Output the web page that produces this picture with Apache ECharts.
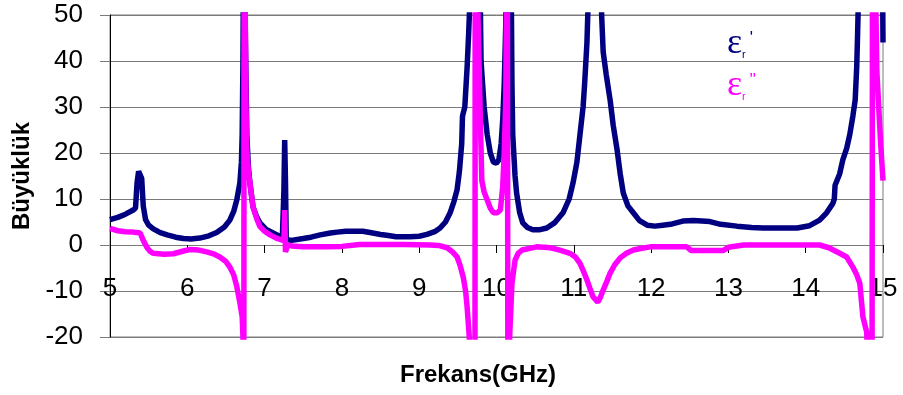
<!DOCTYPE html>
<html>
<head>
<meta charset="utf-8">
<script src="https://cdn.jsdelivr.net/npm/echarts@6/dist/echarts.min.js"></script>
<style>
  html, body { margin: 0; padding: 0; background: #fff; }
  #chart { width: 903px; height: 395px; }
</style>
</head>
<body>
<div id="chart"></div>
<script>
// Frequency sweep (GHz) and real part of the permittivity
const freqReal = [
  5.00, 5.10, 5.20, 5.30, 5.33, 5.35, 5.37, 5.39, 5.41, 5.43, 5.46, 5.50, 5.56, 5.65, 5.74,
  5.85, 5.95, 6.05, 6.16, 6.28, 6.38, 6.48, 6.55, 6.60, 6.64, 6.68, 6.70, 6.71, 6.72, 6.73,
  6.75, 6.76, 6.77, 6.79, 6.81, 6.85, 6.90, 6.94, 7.02, 7.11, 7.18, 7.23, 7.25, 7.26, 7.27,
  7.28, 7.35, 7.50, 7.60, 7.72, 7.85, 7.94, 8.05, 8.27, 8.40, 8.50, 8.58, 8.70, 8.88, 9.00,
  9.10, 9.20, 9.27, 9.34, 9.40, 9.45, 9.49, 9.52, 9.54, 9.55, 9.56, 9.57, 9.59, 9.62, 9.64,
  9.66, 9.68, 9.77, 9.80, 9.84, 9.88, 9.92, 9.96, 10.00, 10.03, 10.06, 10.08, 10.10, 10.12, 10.13,
  10.18, 10.20, 10.21, 10.24, 10.26, 10.30, 10.34, 10.40, 10.47, 10.55, 10.65, 10.75, 10.86, 10.94, 10.99,
  11.04, 11.08, 11.12, 11.14, 11.17, 11.19, 11.20, 11.35, 11.36, 11.38, 11.42, 11.47, 11.51, 11.56, 11.60,
  11.64, 11.70, 11.77, 11.85, 11.95, 12.05, 12.15, 12.25, 12.41, 12.55, 12.76, 12.90, 13.11, 13.30, 13.45,
  13.70, 13.89, 14.05, 14.18, 14.27, 14.35, 14.37, 14.38, 14.40, 14.44, 14.48, 14.53, 14.57, 14.61, 14.64,
  14.66, 14.67, 14.68, 14.70, 14.985, 15.00
];
const epsReal = [
  5.5, 6.0, 6.7, 7.6, 8.0, 13.5, 16.0, 15.8, 14.5, 8.5, 5.5, 4.3, 3.5, 2.7, 2.2,
  1.7, 1.4, 1.3, 1.5, 2.0, 2.7, 3.9, 5.4, 7.3, 9.8, 13.5, 18, 24, 40, 70,
  70, 35, 24, 17, 13.5, 8.3, 6.0, 4.8, 3.4, 2.6, 2.0, 1.8, 12, 22.8, 14,
  1.2, 1.0, 1.4, 1.7, 2.2, 2.6, 2.8, 3.0, 3.0, 2.6, 2.3, 2.1, 1.8, 1.8, 1.9,
  2.3, 2.9, 3.7, 5.0, 7.0, 9.5, 12.0, 16, 20, 22, 28, 28, 30, 38.7, 46,
  55, 80, 80, 40, 30, 24, 20, 18, 17.8, 18.5, 22, 27, 35, 48, 80,
  80, 35, 24, 15, 11.3, 7.0, 4.8, 3.8, 3.3, 3.3, 3.7, 4.8, 7.0, 10, 13.5,
  18, 24, 30, 35, 44, 55, 80, 80, 50, 42, 37, 31.5, 26, 20.7, 15.5,
  11.3, 8.5, 7.0, 5.3, 4.3, 4.1, 4.3, 4.5, 5.2, 5.3, 5.1, 4.5, 4.1, 3.8, 3.7,
  3.7, 3.7, 4.2, 5.4, 7.0, 9.0, 10, 13, 12.8, 15.5, 18.5, 21, 24, 28, 31.5,
  38.7, 45, 52, 80, 80, 44
];

// Frequency sweep (GHz) and imaginary part of the permittivity
const freqImag = [
  5.00, 5.10, 5.20, 5.30, 5.39, 5.43, 5.48, 5.52, 5.56, 5.70, 5.82, 5.95, 6.03, 6.15, 6.25,
  6.35, 6.42, 6.50, 6.55, 6.60, 6.64, 6.68, 6.71, 6.72, 6.73, 6.735, 6.76, 6.77, 6.79, 6.81,
  6.85, 6.90, 6.94, 7.00, 7.07, 7.15, 7.22, 7.25, 7.26, 7.27, 7.30, 7.35, 7.50, 7.80, 8.00,
  8.23, 8.50, 8.80, 9.14, 9.25, 9.36, 9.43, 9.49, 9.53, 9.57, 9.60, 9.62, 9.648, 9.67, 9.72,
  9.725, 9.76, 9.79, 9.81, 9.84, 9.88, 9.92, 9.96, 10.01, 10.05, 10.08, 10.10, 10.12, 10.14, 10.15,
  10.17, 10.20, 10.24, 10.28, 10.33, 10.52, 10.70, 10.82, 10.95, 11.02, 11.08, 11.12, 11.17, 11.21, 11.25,
  11.31, 11.34, 11.38, 11.43, 11.47, 11.53, 11.60, 11.68, 11.77, 11.88, 11.99, 12.46, 12.52, 12.93, 13.00,
  13.20, 14.18, 14.30, 14.44, 14.53, 14.61, 14.66, 14.70, 14.74, 14.79, 14.82, 14.855, 14.865, 14.90, 14.92,
  14.94, 14.97, 15.00
];
const epsImag = [
  3.6, 3.1, 2.9, 2.8, 2.6, 1.0, -0.6, -1.4, -1.8, -2.0, -1.9, -1.3, -1.0, -1.1, -1.5,
  -2.0, -2.6, -3.6, -4.8, -6.5, -9.0, -12.5, -15.6, -20, -80, 80, 30, 20.7, 16, 13.5,
  8.3, 5.6, 4.0, 3.0, 2.2, 1.5, 1.1, 1.0, 7.6, -1.5, 0, -0.2, -0.4, -0.4, -0.3,
  0.1, 0.1, 0.1, 0.0, -0.1, -0.6, -1.5, -2.6, -4.5, -7.0, -10, -13.5, -20, -35, -80,
  80, 50, 28, 14, 11.5, 9.8, 8, 7.0, 7.0, 7.6, 12.6, 20, 31.5, 80, -80,
  -20, -8.3, -3.3, -1.8, -1.1, -0.4, -0.6, -1.1, -1.8, -2.6, -4.0, -5.5, -7.6, -9.5, -11.3,
  -12.4, -11.5, -9.8, -7.8, -6.1, -4.3, -2.8, -1.8, -1.1, -0.7, -0.4, -0.4, -1.2, -1.2, -0.5,
  0, 0, -0.6, -1.8, -2.6, -4.8, -6.5, -8.3, -15.6, -19, -40, -80, 80, 60, 38,
  31.5, 22, 14
];

const seriesNames = ["εr'", 'εr"'];
const seriesColors = ['#000080', '#ff00ff'];
const xTicks = { min: 5, max: 15, step: 1 };
const yTicks = { min: -20, max: 50, step: 10 };
const xTitle = 'Frekans(GHz)';
const yTitle = 'Büyüklük';

const pairs = (xs, ys) => xs.map((x, i) => [x, ys[i]]);

const gridGray = '#7a7a7a';
const labelFont = 'Liberation Sans, Arial, sans-serif';

const richFor = (color) => ({
  e: { fontFamily: 'Liberation Serif, serif', fontSize: 36, color: color, lineHeight: 40, verticalAlign: 'middle' },
  r: { fontFamily: labelFont, fontSize: 11, color: color, lineHeight: 12, verticalAlign: 'bottom', padding: [0, 0, 4, 0] },
  p: { fontFamily: labelFont, fontSize: 17, color: color, lineHeight: 12, verticalAlign: 'top', padding: [6, 0, 0, 4] }
});
const rich0 = richFor(seriesColors[0]);
const rich1 = richFor(seriesColors[1]);

const chart = echarts.init(document.getElementById('chart'), null, { renderer: 'canvas' });

const baseOption = {
  animation: false,
  backgroundColor: '#ffffff',
  grid: {
    left: 110, right: 20, top: 15, bottom: 58,
    show: true, borderColor: gridGray, borderWidth: 1,
    outerBoundsMode: 'none'
  },
  legend: {
    orient: 'vertical',
    left: 716, top: 19,
    itemWidth: 0, itemHeight: 0, itemGap: 2,
    selectedMode: false,
    itemStyle: { opacity: 0 },
    lineStyle: { opacity: 0, width: 0 },
    data: [
      { name: seriesNames[0], textStyle: { rich: { e: rich0.e, r: rich0.r, p: rich0.p } } },
      { name: seriesNames[1], textStyle: { rich: { e: rich1.e, r: rich1.r, p: rich1.p } } }
    ],
    formatter: (name) => name === seriesNames[0] ? "{e|ε}{r|r}{p|'}" : '{e|ε}{r|r}{p|"}'
  },
  xAxis: {
    type: 'value',
    min: xTicks.min, max: xTicks.max, interval: xTicks.step,
    name: xTitle,
    nameLocation: 'middle',
    nameGap: 118,
    nameTextStyle: { fontFamily: labelFont, fontWeight: 'bold', fontSize: 24, color: '#000', padding: [0, 37, 0, 0] },
    axisLine: { onZero: false, lineStyle: { color: gridGray, width: 1 } },
    axisTick: { show: true, inside: false, length: 8, lineStyle: { color: '#000', width: 1 } },
    axisLabel: { fontFamily: labelFont, fontSize: 26, color: '#000', margin: 31 },
    splitLine: { show: false }
  },
  yAxis: {
    type: 'value',
    min: yTicks.min, max: yTicks.max, interval: yTicks.step,
    name: yTitle,
    nameLocation: 'middle',
    nameRotate: 90,
    nameGap: 75,
    nameTextStyle: { fontFamily: labelFont, fontWeight: 'bold', fontSize: 24, color: '#000' },
    axisLine: { show: true, lineStyle: { color: '#000', width: 1 } },
    axisTick: { show: true, length: 10, lineStyle: { color: gridGray, width: 1 } },
    axisLabel: { fontFamily: labelFont, fontSize: 26, color: '#000', margin: 27 },
    splitLine: { show: true, lineStyle: { color: gridGray, width: 1 } }
  },
  series: [
    {
      name: seriesNames[0],
      type: 'line',
      data: pairs(freqReal, epsReal),
      showSymbol: false,
      clip: true,
      lineStyle: { color: seriesColors[0], width: 5.5 },
      itemStyle: { color: seriesColors[0] },
      z: 2
    },
    {
      name: seriesNames[1],
      type: 'line',
      data: pairs(freqImag, epsImag),
      showSymbol: false,
      clip: true,
      lineStyle: { color: seriesColors[1], width: 5.5 },
      itemStyle: { color: seriesColors[1] },
      z: 3
    }
  ]
};

chart.setOption(baseOption);

// Move the frequency axis up so it crosses the value axis at zero
const zeroPx = chart.convertToPixel({ yAxisIndex: 0 }, 0);
const bottomPx = chart.convertToPixel({ yAxisIndex: 0 }, yTicks.min);
chart.setOption({ xAxis: { offset: zeroPx - bottomPx } });
</script>
</body>
</html>
